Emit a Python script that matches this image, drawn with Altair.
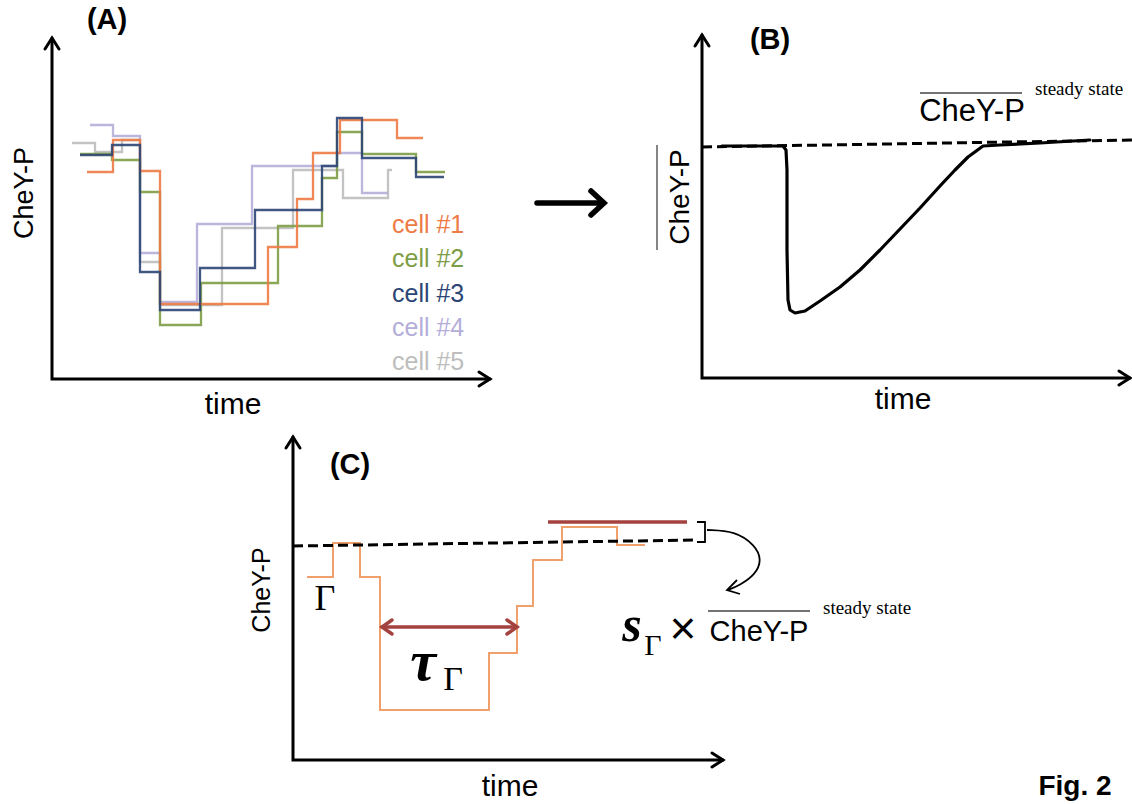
import altair as alt
import pandas as pd

SANS = "Liberation Sans"
SERIF = "Liberation Serif"

# ---------------- Panel A: single-cell CheY-P step traces ----------------
cell_names = ["cell #1", "cell #2", "cell #3", "cell #4", "cell #5"]
cell_colors = ["#EE7A45", "#7D9D46", "#2C4575", "#B3AED8", "#BDBDBD"]
# switching times of each trace; the level holds from one switch to the next
cell_switch_times = [
    [35, 61, 88, 108, 216, 245, 261, 288, 345, 371],
    [28, 60, 88, 108, 149, 226, 270, 285, 310, 364, 393],
    [28, 60, 88, 108, 148, 203, 270, 285, 310, 364, 392],
    [38, 61, 88, 108, 145, 200, 285, 310, 336],
    [20, 43, 70, 88, 108, 170, 241, 291, 336, 340],
]
cell_levels = [
    [207, 239, 208, 75, 132, 180, 226, 259, 241],
    [225, 219, 187, 54, 96, 153, 201, 247, 225, 207],
    [224, 234, 107, 69, 111, 169, 213, 261, 221, 202],
    [254, 243, 126, 77, 155, 213, 226, 186],
    [236, 227, 239, 117, 74, 151, 209, 181, 209],
]

# ---------------- Panel B: population-averaged response ----------------
mean_time = [20, 58, 81, 84, 85, 85, 86, 88, 93, 103, 118, 138, 158, 178,
             198, 218, 238, 253, 266, 281, 298, 338, 388]
mean_level = [232, 232, 232, 228, 208, 128, 78, 68, 65, 67, 77, 91, 108, 128,
              149, 170, 192, 208, 221, 232, 233, 235, 238]
mean_steady_time = [0, 430]
mean_steady_level = [231, 238]

# ---------------- Panel C: one trace with its adaptation time ----------------
c_switch_times = [14, 40, 67, 87, 196, 224, 240, 269, 324, 352]
c_levels = [183, 217, 183, 50, 107, 154, 200, 233, 215]
c_steady_time = [0, 404]
c_steady_level = [214, 220]
c_overshoot_time = [255, 394]
c_overshoot_level = 238
c_tau_time = [89, 224]
c_tau_level = 133


# panel frames: origin on the canvas and axis lengths (1 unit = 1 px)
def frame(x0, y0, xlen, ylen):
    X = alt.X("t:Q", axis=None,
              scale=alt.Scale(domain=[0, xlen], range=[x0, x0 + xlen], nice=False, zero=False))
    Y = alt.Y("v:Q", axis=None,
              scale=alt.Scale(domain=[0, ylen], range=[y0, y0 - ylen], nice=False, zero=False))
    return X, Y, xlen, ylen


def path_layer(paths, X, Y, **mark):
    rows = []
    for name, pts in paths.items():
        for i, (t, v) in enumerate(pts):
            rows.append({"path": name, "i": i, "t": t, "v": v})
    return alt.Chart(pd.DataFrame(rows)).mark_line(**mark).encode(
        x=X, y=Y, detail="path:N", order="i:Q")


def label(X, Y, t, v, s, **mark):
    df = pd.DataFrame({"t": [t], "v": [v], "s": [s]})
    return alt.Chart(df).mark_text(**mark).encode(x=X, y=Y, text="s:N")


def axes(X, Y, xlen, ylen, hw=7, hl=11):
    return path_layer({
        "axis": [(0, ylen), (0, 0), (xlen, 0)],
        "yhead": [(-hw, ylen - hl), (0, ylen), (hw, ylen - hl)],
        "xhead": [(xlen - hl, hw), (xlen, 0), (xlen - hl, -hw)],
    }, X, Y, color="black", strokeWidth=3, strokeCap="round", strokeJoin="miter")


def step_rows(times, levels):
    return [(t, levels[min(i, len(levels) - 1)]) for i, t in enumerate(times)]


# ---------------- build panel A ----------------
XA, YA, AX, AY = frame(52, 379, 438, 341)
color_scale = alt.Scale(domain=cell_names, range=cell_colors)
a_layers = [axes(XA, YA, AX, AY)]
for k in [4, 3, 1, 0, 2]:
    rows = [{"t": t, "v": v, "name": cell_names[k]}
            for t, v in step_rows(cell_switch_times[k], cell_levels[k])]
    a_layers.append(
        alt.Chart(pd.DataFrame(rows)).mark_line(
            interpolate="step-after", strokeWidth=2.3, opacity=0.9
        ).encode(x=XA, y=YA,
                 color=alt.Color("name:N", scale=color_scale, legend=None))
    )
legend_df = pd.DataFrame({
    "name": cell_names,
    "t": [340] * len(cell_names),
    "v": [154 - 34.3 * i for i in range(len(cell_names))],
})
a_layers.append(
    alt.Chart(legend_df).mark_text(align="left", font=SANS, fontSize=25).encode(
        x=XA, y=YA, text="name:N",
        color=alt.Color("name:N", scale=color_scale, legend=None))
)
a_layers += [
    label(XA, YA, 55, 359, "(A)", font=SANS, fontSize=29, fontWeight="bold"),
    label(XA, YA, -27, 186, "CheY-P", font=SANS, fontSize=27, angle=270),
    label(XA, YA, 181, -26, "time", font=SANS, fontSize=30),
]
panel_a = alt.layer(*a_layers)

# ---------------- build panel B ----------------
XB, YB, BX, BY = frame(702, 378, 428, 343)
b_layers = [
    axes(XB, YB, BX, BY),
    path_layer({"mean": list(zip(mean_time, mean_level))}, XB, YB,
               color="black", strokeWidth=3.2, strokeJoin="round", strokeCap="round"),
    path_layer({"steady": list(zip(mean_steady_time, mean_steady_level))}, XB, YB,
               color="black", strokeWidth=3, strokeDash=[10, 5]),
    # arrow leading from panel A to panel B
    path_layer({
        "shaft": [(-165, 175), (-99, 175)],
        "head": [(-111, 187), (-98, 175), (-111, 163)],
    }, XB, YB, color="black", strokeWidth=5.5, strokeCap="round", strokeJoin="miter"),
    path_layer({
        "over_top": [(218, 285), (320, 285)],
        "over_left": [(-45, 128), (-45, 233)],
    }, XB, YB, color="#444444", strokeWidth=1.3),
    label(XB, YB, 270, 266, "CheY-P", font=SANS, fontSize=31),
    label(XB, YB, 333, 289, "steady state", font=SERIF, fontSize=19, align="left"),
    label(XB, YB, -21, 181, "CheY-P", font=SANS, fontSize=28, angle=270),
    label(XB, YB, 68, 338, "(B)", font=SANS, fontSize=29, fontWeight="bold"),
    label(XB, YB, 201, -22, "time", font=SANS, fontSize=30),
    label(XB, YB, 373, -409, "Fig. 2", font=SANS, fontSize=28, fontWeight="bold"),
]
panel_b = alt.layer(*b_layers)

# ---------------- build panel C ----------------
XC, YC, CX, CY = frame(293, 760, 430, 323)
c_rows = [{"t": t, "v": v} for t, v in step_rows(c_switch_times, c_levels)]
red = "#A3423F"
c_layers = [
    axes(XC, YC, CX, CY),
    alt.Chart(pd.DataFrame(c_rows)).mark_line(
        interpolate="step-after", color="#F0A06C", strokeWidth=2
    ).encode(x=XC, y=YC),
    path_layer({"steady": list(zip(c_steady_time, c_steady_level))}, XC, YC,
               color="black", strokeWidth=3, strokeDash=[10, 5]),
    path_layer({"overshoot": [(c_overshoot_time[0], c_overshoot_level),
                              (c_overshoot_time[1], c_overshoot_level)]},
               XC, YC, color=red, strokeWidth=3.5),
    path_layer({
        "tau": [(c_tau_time[0], c_tau_level), (c_tau_time[1], c_tau_level)],
        "tau_l": [(c_tau_time[0] + 10, c_tau_level + 7), (c_tau_time[0], c_tau_level),
                  (c_tau_time[0] + 10, c_tau_level - 7)],
        "tau_r": [(c_tau_time[1] - 10, c_tau_level + 7), (c_tau_time[1], c_tau_level),
                  (c_tau_time[1] - 10, c_tau_level - 7)],
    }, XC, YC, color=red, strokeWidth=3.5, strokeCap="round", strokeJoin="miter"),
    path_layer({
        "bracket": [(404, c_overshoot_level), (412, c_overshoot_level),
                    (412, c_steady_level[1] - 2), (404, c_steady_level[1] - 2)],
        "head": [(444, 180), (434, 170), (447, 166)],
    }, XC, YC, color="black", strokeWidth=1.8),
    path_layer({"curve": [(414, 230), (442, 229), (462, 215), (469, 200),
                          (462, 185), (447, 175), (435, 170)]},
               XC, YC, color="black", strokeWidth=1.8, interpolate="basis"),
    path_layer({"over": [(415, 149), (517, 149)]}, XC, YC, color="#444444", strokeWidth=1.3),
    label(XC, YC, 57, 295, "(C)", font=SANS, fontSize=29, fontWeight="bold"),
    label(XC, YC, -31, 170, "CheY-P", font=SANS, fontSize=25, angle=270),
    label(XC, YC, 217, -27, "time", font=SANS, fontSize=30),
    label(XC, YC, 32, 161, "Γ", font=SERIF, fontSize=36),
    label(XC, YC, 130, 97, "τ", font=SERIF, fontSize=58, fontStyle="italic", fontWeight="bold"),
    label(XC, YC, 160, 80, "Γ", font=SERIF, fontSize=34),
    label(XC, YC, 339, 134, "s", font=SERIF, fontSize=50, fontStyle="italic", fontWeight="bold"),
    label(XC, YC, 360, 114, "Γ", font=SERIF, fontSize=30),
    label(XC, YC, 390, 130, "×", font=SANS, fontSize=46, fontWeight=300),
    label(XC, YC, 466, 128, "CheY-P", font=SANS, fontSize=29),
    label(XC, YC, 530, 152, "steady state", font=SERIF, fontSize=19, align="left"),
]
panel_c = alt.layer(*c_layers)

chart = (
    alt.layer(panel_a, panel_b, panel_c)
    .resolve_scale(x="independent", y="independent")
    .properties(width=1132, height=804, autosize="none", padding=0, background="white")
    .configure_view(stroke=None)
)

chart.save("out.html", embed_options={"renderer": "svg", "actions": False})
